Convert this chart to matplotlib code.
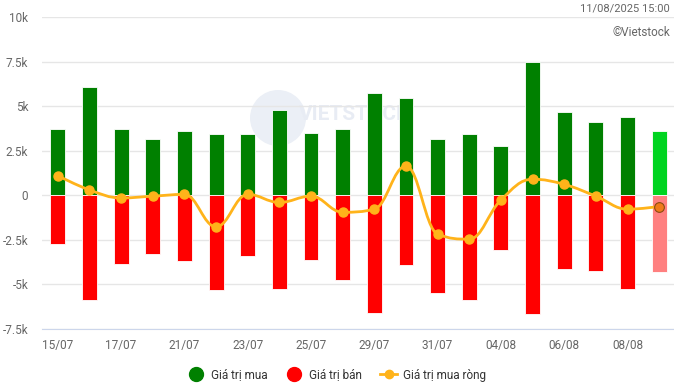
import numpy as np
import matplotlib
matplotlib.use("Agg")
import matplotlib.pyplot as plt
from matplotlib.path import Path
from matplotlib.patches import PathPatch, Ellipse
from matplotlib.lines import Line2D

plt.rcParams['font.family'] = ['Roboto', 'DejaVu Sans']

# Dữ liệu (tỷ đồng, đơn vị nghìn)
ngay = ["15/07", "16/07", "17/07", "18/07", "21/07", "22/07", "23/07", "24/07",
        "25/07", "28/07", "29/07", "30/07", "31/07", "01/08", "04/08", "05/08",
        "06/08", "07/08", "08/08", "11/08"]
gia_tri_mua = [3.74, 6.10, 3.69, 3.18, 3.63, 3.46, 3.41, 4.80, 3.52, 3.69,
               5.75, 5.47, 3.18, 3.41, 2.79, 7.49, 4.69, 4.13, 4.41, 3.63]
gia_tri_ban = [-2.74, -5.87, -3.85, -3.30, -3.69, -5.31, -3.41, -5.25, -3.63, -4.73,
               -6.59, -3.91, -5.47, -5.87, -3.07, -6.65, -4.13, -4.25, -5.25, -4.30]
mua_rong = [1.10, 0.30, -0.15, -0.05, 0.05, -1.77, 0.05, -0.40, -0.05, -0.95,
            -0.78, 1.64, -2.18, -2.46, -0.26, 0.90, 0.61, -0.05, -0.78, -0.63]
nhan_truc_y = ["-7.5k", "-5k", "-2.5k", "0", "2.5k", "5k", "7.5k", "10k"]
muc_truc_y = [-7.5, -5, -2.5, 0, 2.5, 5, 7.5, 10]

XANH, XANH_NHAT = "#008000", "#00d420"
DO, DO_NHAT = "#ff0000", "#ff8080"
CAM = "#ffb31a"
XAM = "#666666"


def duong_spline(xs, ys, smoothing=1.5):
    # đường cong mượt kiểu Highcharts spline
    n = len(xs)
    verts = [(xs[0], ys[0])]
    codes = [Path.MOVETO]
    ctrl = []
    for i in range(n):
        x, y = xs[i], ys[i]
        if 0 < i < n - 1:
            lx, ly = xs[i - 1], ys[i - 1]
            rx, ry = xs[i + 1], ys[i + 1]
            d = smoothing + 1
            lcx, lcy = (smoothing * x + lx) / d, (smoothing * y + ly) / d
            rcx, rcy = (smoothing * x + rx) / d, (smoothing * y + ry) / d
            corr = (rcy - lcy) * (rcx - x) / (rcx - lcx) + y - rcy
            lcy += corr
            rcy += corr
            if lcy > ly and lcy > y:
                lcy = max(ly, y)
                rcy = 2 * y - lcy
            elif lcy < ly and lcy < y:
                lcy = min(ly, y)
                rcy = 2 * y - lcy
            if rcy > ry and rcy > y:
                rcy = max(ry, y)
                lcy = 2 * y - rcy
            elif rcy < ry and rcy < y:
                rcy = min(ry, y)
                lcy = 2 * y - rcy
            ctrl.append(((lcx, lcy), (rcx, rcy)))
        else:
            ctrl.append(((x, y), (x, y)))
    for i in range(1, n):
        verts += [ctrl[i - 1][1], ctrl[i][0], (xs[i], ys[i])]
        codes += [Path.CURVE4] * 3
    return Path(verts, codes)


fig = plt.figure(figsize=(6.74, 3.87), dpi=100)

# logo mờ phía sau
fig.patches.append(Ellipse((278 / 674, 1 - 118 / 387), 56 / 674, 56 / 387,
                           transform=fig.transFigure, facecolor="#ebeff6",
                           edgecolor="none", zorder=-2))
fig.text(355 / 674, 1 - 115 / 387, "VIETSTOCK", fontsize=15, fontweight="bold",
         color="#e8ecf4", ha="center", va="center", zorder=-2)

ax = fig.add_axes([42 / 674, 58 / 387, 633 / 674, 312 / 387])
ax.patch.set_alpha(0)

x = np.arange(len(ngay))
mau_mua = [XANH] * (len(x) - 1) + [XANH_NHAT]
mau_ban = [DO] * (len(x) - 1) + [DO_NHAT]
ax.bar(x, gia_tri_mua, width=0.47, color=mau_mua, edgecolor="white", linewidth=0.6, zorder=2)
ax.bar(x, gia_tri_ban, width=0.47, color=mau_ban, edgecolor="white", linewidth=0.6, zorder=2)

ax.add_patch(PathPatch(duong_spline(x, mua_rong), facecolor="none", edgecolor=CAM,
                       linewidth=2, zorder=3, capstyle="round"))
ax.plot(x[:-1], mua_rong[:-1], "o", color=CAM, markersize=6.5, zorder=4)
ax.plot(x[-1:], mua_rong[-1:], "o", color="#f07a1a", markeredgecolor="#8a4a10",
        markeredgewidth=0.8, markersize=7, zorder=4)

ax.set_xlim(-0.5, len(x) - 0.5)
ax.set_ylim(-7.5, 10)
ax.set_yticks(muc_truc_y)
ax.set_yticklabels(nhan_truc_y)
ax.set_xticks(x[::2])
ax.set_xticklabels(ngay[::2])
ax.grid(axis="y", color="#e6e6e6", linewidth=1, zorder=0)
ax.set_axisbelow(True)
for s in ["top", "right", "left"]:
    ax.spines[s].set_visible(False)
ax.spines["bottom"].set_color("#ccd6eb")
ax.spines["bottom"].set_position(("data", -7.5))
ax.tick_params(axis="both", length=0, colors=XAM, labelsize=8.5)
ax.tick_params(axis="y", pad=10)
ax.tick_params(axis="x", pad=7)

fig.text(670 / 674, 1 - 9 / 387, "11/08/2025 15:00", ha="right", va="center",
         fontsize=8, color=XAM)
fig.text(670 / 674, 1 - 33 / 387, "©Vietstock", ha="right", va="center",
         fontsize=8.5, color=XAM)

handles = [
    Line2D([], [], marker="o", linestyle="none", color=XANH, markersize=10),
    Line2D([], [], marker="o", linestyle="none", color=DO, markersize=10),
    Line2D([], [], marker="o", color=CAM, markersize=6, linewidth=2),
]
fig.legend(handles, ["Giá trị mua", "Giá trị bán", "Giá trị mua ròng"],
           loc="center", bbox_to_anchor=(0.5, 1 - 375 / 387), ncol=3, frameon=False,
           fontsize=8.5, labelcolor="#333333", handlelength=1.4, handletextpad=0.5,
           columnspacing=1.6)

fig.savefig("out.png", dpi=100)
